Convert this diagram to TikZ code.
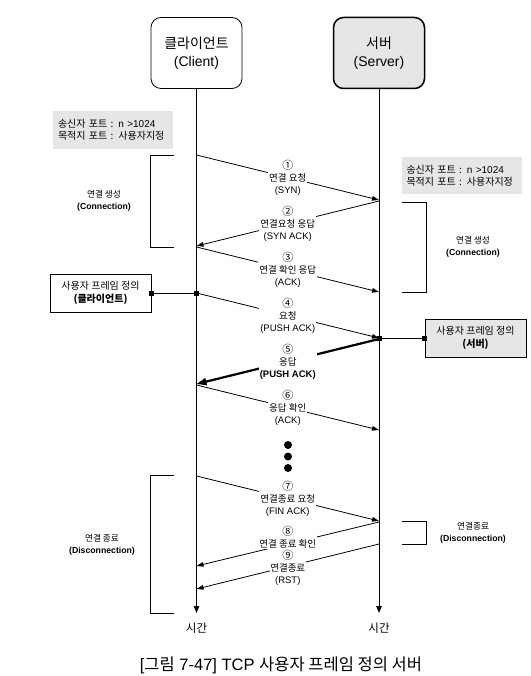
\documentclass[tikz,border=0pt]{standalone}
\usepackage{fontspec}
\setmainfont{Liberation Sans}
\newfontfamily\kr{Noto Sans CJK KR}
\usetikzlibrary{arrows.meta}
\definecolor{boxgray}{RGB}{230,230,230}
\newcommand{\cnum}[1]{{\kr\fontsize{11}{12}\selectfont #1}}
\begin{document}
\begin{tikzpicture}[x=1pt,y=-1pt,
  actor/.style={draw, rounded corners=10pt, minimum width=91pt, minimum height=71pt, align=center,
    font=\fontsize{14}{17.5}\selectfont, line width=0.8pt},
  life/.style={line width=1pt, -{Triangle[length=7pt,width=5.5pt]}},
  msg/.style={line width=0.8pt, -{Triangle[length=7pt,width=4.5pt]}},
  bigmsg/.style={line width=2.2pt, -{Triangle[length=10pt,width=7pt]}},
  lbl/.style={fill=white, align=center, inner sep=1pt, font=\fontsize{9.5}{12}\selectfont},
  info/.style={fill=boxgray, align=left, inner sep=0pt, minimum width=120pt, minimum height=37.5pt,
    text width=110pt, font=\fontsize{10}{12}\selectfont},
  phase/.style={align=center, font=\fontsize{8.7}{12}\selectfont\bfseries},
  frame/.style={draw, line width=0.8pt, align=center, minimum width=101pt, minimum height=38pt,
    font=\fontsize{10}{12.5}\selectfont},
  sq/.style={fill=black, inner sep=0pt, minimum size=5pt},
  bracket/.style={line width=0.8pt},
  dot/.style={circle, fill=black, inner sep=0pt, minimum size=8pt},
  timelbl/.style={font=\kr\fontsize{11.5}{12}\selectfont}
]
\useasboundingbox (0,0) rectangle (530,676);

% actors
\node[actor] (client) at (196.5,53) {{\kr 클라이언트}\\(Client)};
\node[actor, fill=boxgray, line width=1.5pt] (server) at (379,53) {{\kr 서버}\\(Server)};

% lifelines
\coordinate (cend) at (196.5,613);
\coordinate (send) at (379,613);
\draw[life] (client.south) -- (cend);
\draw[life] (server.south) -- (send);
\node[timelbl] (ct) at (196.5,628) {시간};
\node[timelbl] (st) at (379,628) {시간};

% info boxes
\node[info] (cinfo) at (113,130) {{\kr 송신자 포트 :} n >1024\\{\kr 목적지 포트 : 사용자지정}};
\node[info] (sinfo) at (461.5,175.5) {{\kr 송신자 포트 :} n >1024\\{\kr 목적지 포트 : 사용자지정}};

% brackets
\draw[bracket] (174,155) -- (150.5,155) -- (150.5,247) -- (174,247);
\node[phase] (pc1) at (104,201) {{\kr\mdseries 연결 생성}\\(Connection)};
\draw[bracket] (402,202) -- (426,202) -- (426,292) -- (402,292);
\node[phase] (pc2) at (473,247) {{\kr\mdseries 연결 생성}\\(Connection)};
\draw[bracket] (174,475) -- (150.5,475) -- (150.5,613) -- (174,613);
\node[phase] (pd1) at (102,545) {{\kr\mdseries 연결 종료}\\(Disconnection)};
\draw[bracket] (402,521) -- (426,521) -- (426,544) -- (402,544);
\node[phase] (pd2) at (473,533) {{\kr\mdseries 연결종료}\\(Disconnection)};

% message points
\coordinate (c1) at (196.5,155); \coordinate (s1) at (379,200);
\coordinate (s2) at (379,201);   \coordinate (c2) at (196.5,246);
\coordinate (c3) at (196.5,247); \coordinate (s3) at (379,292);
\coordinate (c4) at (196.5,293); \coordinate (s4) at (379,338);
\coordinate (s5) at (379,339);   \coordinate (c5) at (196.5,384);
\coordinate (c6) at (196.5,385); \coordinate (s6) at (379,430);
\coordinate (c7) at (196.5,476); \coordinate (s7) at (379,521);
\coordinate (s8) at (379,522);   \coordinate (c8) at (196.5,566);
\coordinate (s9) at (379,544);   \coordinate (c9) at (196.5,589);

\draw[msg] (c1) -- node[lbl] {\cnum{①}\\{\kr 연결 요청}\\(SYN)} (s1);
\draw[msg] (s2) -- node[lbl] {\cnum{②}\\{\kr 연결요청 응답}\\(SYN ACK)} (c2);
\draw[msg] (c3) -- node[lbl] {\cnum{③}\\{\kr 연결 확인 응답}\\(ACK)} (s3);
\draw[msg] (c4) -- node[lbl] {\cnum{④}\\{\kr 요청}\\(PUSH ACK)} (s4);
\draw[bigmsg] (s5) -- node[lbl] {\cnum{⑤}\\{\kr 응답}\\\textbf{(PUSH ACK)}} (c5);
\draw[msg] (c6) -- node[lbl] {\cnum{⑥}\\{\kr 응답 확인}\\(ACK)} (s6);
\draw[msg] (c7) -- node[lbl] {\cnum{⑦}\\{\kr 연결종료 요청}\\(FIN ACK)} (s7);
\draw[msg] (s9) -- node[lbl, inner sep=0.5pt, yshift=-1.5pt] {\cnum{⑨}\\{\kr 연결종료}\\(RST)} (c9);
\draw[msg] (s8) -- node[lbl, inner sep=0.5pt, yshift=7pt] {\cnum{⑧}\\{\kr 연결 종료 확인}} (c8);

% dots
\node[dot] (d1) at (288,445) {};
\node[dot] (d2) at (288,456.5) {};
\node[dot] (d3) at (288,468) {};

% user frame definition boxes
\node[frame, fill=white] (cf) at (100.5,293) {{\kr 사용자 프레임 정의}\\{\kr\bfseries (클라이언트)}};
\node[sq] (cq1) at (cf.east) {};
\node[sq] (cq2) at (c4) {};
\draw[line width=0.8pt] (cq1) -- (cq2);

\node[frame, fill=boxgray] (sf) at (475.5,338) {{\kr 사용자 프레임 정의}\\{\kr\bfseries (서버)}};
\node[sq] (sq1) at (sf.west) {};
\node[sq] (sq2) at (s4) {};
\draw[line width=0.8pt] (sq2) -- (sq1);

% caption
\node[font=\fontsize{16.5}{19}\selectfont] (cap) at (281,665) {[{\kr 그림} 7-47] TCP {\kr 사용자 프레임 정의 서버}};
\end{tikzpicture}
\end{document}
